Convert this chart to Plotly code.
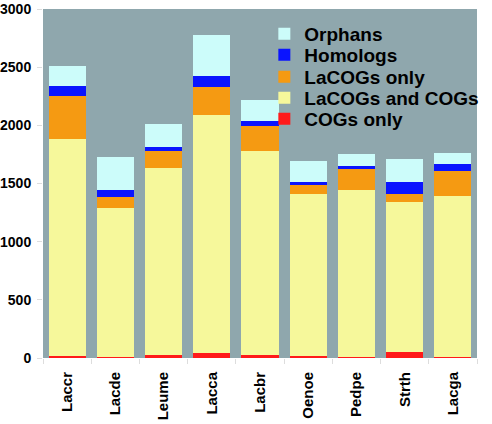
import plotly.graph_objects as go

categories = ["Laccr", "Lacde", "Leume", "Lacca", "Lacbr", "Oenoe", "Pedpe", "Strth", "Lacga"]
cogs_only = [20, 8, 30, 40, 30, 20, 8, 50, 10]
lacogs_and_cogs = [1860, 1282, 1605, 2052, 1752, 1390, 1437, 1290, 1385]
lacogs_only = [370, 95, 145, 235, 210, 85, 180, 70, 212]
homologs = [85, 60, 35, 95, 43, 17, 26, 103, 61]
orphans = [175, 285, 195, 353, 185, 182, 103, 198, 95]

series = [
    ("COGs only", cogs_only, "#ff1a1a"),
    ("LaCOGs and COGs", lacogs_and_cogs, "#f6f89b"),
    ("LaCOGs only", lacogs_only, "#f59a12"),
    ("Homologs", homologs, "#0a14ff"),
    ("Orphans", orphans, "#ccfcfa"),
]
y_ticks = [0, 500, 1000, 1500, 2000, 2500, 3000]

# legend rows (top to bottom): Orphans, Homologs, LaCOGs only, LaCOGs and COGs, COGs only
legend_names = ["legend5", "legend4", "legend3", "legend2", "legend"]
legend_rows_px = [119, 98, 77, 55, 34]  # centre of each row, px from top of figure

PLOT_TOP, PLOT_BOTTOM = 9, 358
plot_h = PLOT_BOTTOM - PLOT_TOP

fig = go.Figure()
for (name, vals, color), lg in zip(series, legend_names):
    fig.add_trace(go.Bar(x=categories, y=vals, name=name, legend=lg,
                         marker=dict(color=color, line=dict(width=0))))

font_family = "Liberation Sans, Arial, sans-serif"
legend_common = dict(
    x=0.51, xanchor="left", yanchor="middle",
    bgcolor="rgba(0,0,0,0)", borderwidth=0,
    font=dict(size=19, family=font_family, weight="bold", color="black"),
    itemwidth=30,
)
layout_legends = {}
for lg, row in zip(legend_names, legend_rows_px):
    d = dict(legend_common)
    d["y"] = (PLOT_BOTTOM - row) / plot_h
    layout_legends[lg] = d

fig.update_layout(
    barmode="stack",
    bargap=0.23,
    width=492, height=424,
    margin=dict(l=43, r=15, t=PLOT_TOP, b=424 - PLOT_BOTTOM, autoexpand=False),
    paper_bgcolor="white",
    plot_bgcolor="#8fa7ad",
    font=dict(family=font_family, color="black"),
    showlegend=True,
    xaxis=dict(
        tickangle=-90,
        tickfont=dict(size=15, weight="bold"),
        showgrid=False,
        ticks="outside", ticklen=5, tickcolor="#dddddd", tickwidth=1,
        tickson="boundaries",
        ticklabelstandoff=10,
        automargin=False,
    ),
    yaxis=dict(
        range=[0, 3000],
        tickvals=y_ticks,
        ticktext=[str(v) for v in y_ticks],
        tickfont=dict(size=14, weight="bold"),
        showgrid=False,
        zeroline=False,
        ticks="outside", ticklen=5, tickcolor="#dddddd", tickwidth=1,
        ticklabelstandoff=3,
        automargin=False,
    ),
    **layout_legends,
)

fig.write_html("out.html", config={"displayModeBar": False},
               post_script="document.body.style.margin='0';")
